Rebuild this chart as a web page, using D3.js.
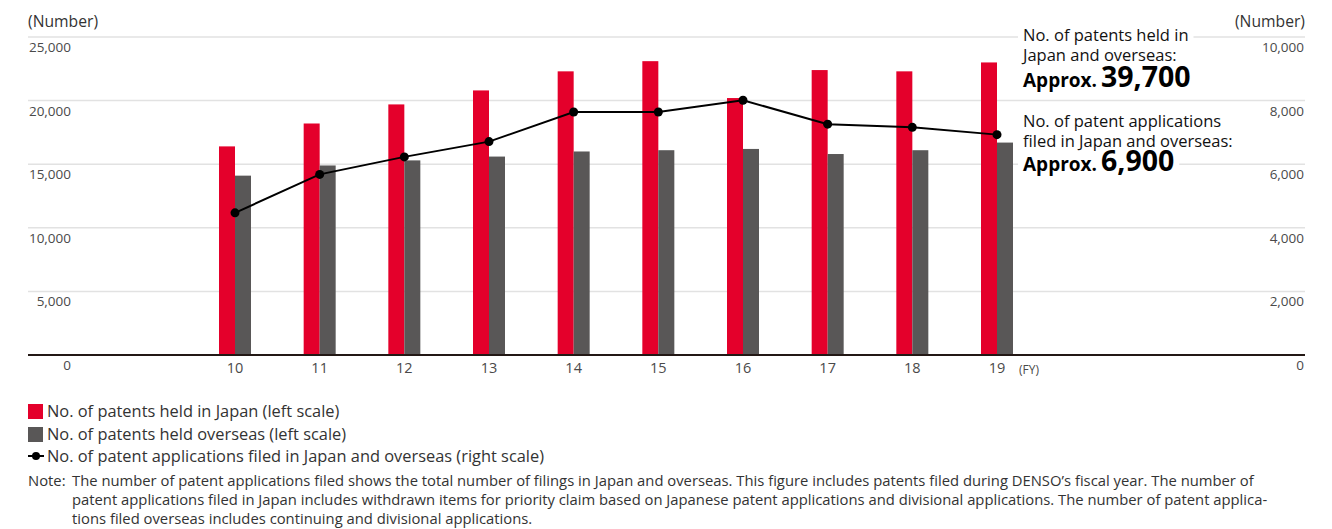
<!DOCTYPE html>
<html>
<head>
<meta charset="utf-8">
<script src="https://cdn.jsdelivr.net/npm/d3@7"></script>
<style>
	body { margin: 0; background: #fff; }
	svg { display: block; font-family: 'Open Sans', sans-serif; }
</style>
</head>
<body>
<div id="patent-chart-container"></div>
<script>
// values
const fiscalYears = ['10', '11', '12', '13', '14', '15', '16', '17', '18', '19'];
const heldJapan = [16400, 18200, 19700, 20800, 22300, 23100, 20200, 22400, 22300, 23000];
const heldOverseas = [14100, 14900, 15300, 15600, 16000, 16100, 16200, 15800, 16100, 16700];
const applications = [4470, 5680, 6230, 6710, 7640, 7640, 8010, 7260, 7160, 6930];

const leftTicks = [0, 5000, 10000, 15000, 20000, 25000];
const rightTicks = [0, 2000, 4000, 6000, 8000, 10000];

const heldNote = ['No. of patents held in', 'Japan and overseas:'];
const appsNote = ['No. of patent applications', 'filed in Japan and overseas:'];
const heldTotal = '39,700';
const appsTotal = '6,900';

const legendLabels = [
	'No. of patents held in Japan (left scale)',
	'No. of patents held overseas (left scale)',
	'No. of patent applications filed in Japan and overseas (right scale)'
];

const noteLines = [
	'The number of patent applications filed shows the total number of filings in Japan and overseas. This figure includes patents filed during DENSO\u2019s fiscal year. The number of',
	'patent applications filed in Japan includes withdrawn items for priority claim based on Japanese patent applications and divisional applications. The number of patent applica-',
	'tions filed overseas includes continuing and divisional applications.'
];

class PatentChart {

	constructor () {
		this.width = 1332;
		this.height = 529;

		this.left = 28;
		this.right = 1305;
		this.top = 37;
		this.bottom = 355;
		this.barWidth = 16;

		this.red = '#e4002b';
		this.gray = '#595757';
		this.textColor = '#4a4a4a';

		this.svg = d3.select('#patent-chart-container')
			.append('svg')
			.attr('width', this.width)
			.attr('height', this.height);

		this.x = d3.scalePoint()
			.domain(fiscalYears)
			.range([235, 997]);

		this.yLeft = d3.scaleLinear()
			.domain([0, 25000])
			.range([this.bottom, this.top]);

		this.yRight = d3.scaleLinear()
			.domain([0, 10000])
			.range([this.bottom, this.top]);
	}

	render () {
		this.drawGrid();
		this.drawAnnotations();
		this.drawBars();
		this.drawLine();
		this.drawLegend();
		this.drawNote();
	}

	drawGrid () {
		const bindObj = this;
		const fmt = d3.format(',');

		this.svg.append('g')
			.selectAll('line')
			.data(leftTicks.filter((d) => d > 0))
			.join('line')
			.attr('x1', bindObj.left)
			.attr('x2', bindObj.right)
			.attr('y1', (d) => bindObj.yLeft(d))
			.attr('y2', (d) => bindObj.yLeft(d))
			.attr('stroke', '#e2e2e2')
			.attr('stroke-width', 1.5);

		this.svg.append('g')
			.selectAll('text')
			.data(leftTicks)
			.join('text')
			.attr('x', 71)
			.attr('y', (d) => bindObj.yLeft(d) + 15)
			.attr('text-anchor', 'end')
			.attr('font-size', 13.5)
			.attr('fill', bindObj.textColor)
			.text((d) => fmt(d));

		this.svg.append('g')
			.selectAll('text')
			.data(rightTicks)
			.join('text')
			.attr('x', 1304)
			.attr('y', (d) => bindObj.yRight(d) + 15)
			.attr('text-anchor', 'end')
			.attr('font-size', 13.5)
			.attr('fill', bindObj.textColor)
			.text((d) => fmt(d));

		this.svg.append('text')
			.attr('x', bindObj.left)
			.attr('y', 27)
			.attr('font-size', 15.7)
			.attr('fill', '#333')
			.text('(Number)');

		this.svg.append('text')
			.attr('x', bindObj.right)
			.attr('y', 27)
			.attr('text-anchor', 'end')
			.attr('font-size', 15.7)
			.attr('fill', '#333')
			.text('(Number)');

		this.svg.append('g')
			.selectAll('text')
			.data(fiscalYears)
			.join('text')
			.attr('x', (d) => bindObj.x(d))
			.attr('y', 373)
			.attr('text-anchor', 'middle')
			.attr('font-size', 14.5)
			.attr('fill', bindObj.textColor)
			.text((d) => d);

		this.svg.append('text')
			.attr('x', 1019)
			.attr('y', 374)
			.attr('font-size', 12)
			.attr('fill', bindObj.textColor)
			.text('(FY)');
	}

	annotationBlock (lines, total, y0, gap) {
		const g = this.svg.append('g');
		const x0 = 1023;

		lines.forEach((line, i) => {
			g.append('text')
				.attr('x', x0)
				.attr('y', y0 + i * 20)
				.attr('font-size', 16.5)
				.attr('fill', '#111')
				.text(line);
		});

		const big = g.append('text')
			.attr('x', x0)
			.attr('y', y0 + gap)
			.attr('fill', '#000')
			.attr('font-weight', 'bold');

		big.append('tspan')
			.attr('font-size', 19)
			.text('Approx.');

		big.append('tspan')
			.attr('dx', 4)
			.attr('font-size', 28.5)
			.text(total);

		// white boxes cut the gridlines behind the text
		g.selectAll('text').each(function () {
			const box = this.getBBox();
			g.insert('rect', 'text')
				.attr('x', box.x - 5)
				.attr('y', box.y + 3)
				.attr('width', box.width + 10)
				.attr('height', box.height - 6)
				.attr('fill', '#fff');
		});
	}

	drawAnnotations () {
		this.annotationBlock(heldNote, heldTotal, 41, 46);
		this.annotationBlock(appsNote, appsTotal, 127, 44);
	}

	drawBars () {
		const bindObj = this;

		this.svg.append('g')
			.selectAll('rect')
			.data(fiscalYears)
			.join('rect')
			.attr('x', (d) => bindObj.x(d) - bindObj.barWidth)
			.attr('y', (d, i) => bindObj.yLeft(heldJapan[i]))
			.attr('width', bindObj.barWidth)
			.attr('height', (d, i) => bindObj.bottom - bindObj.yLeft(heldJapan[i]))
			.attr('fill', bindObj.red);

		this.svg.append('g')
			.selectAll('rect')
			.data(fiscalYears)
			.join('rect')
			.attr('x', (d) => bindObj.x(d))
			.attr('y', (d, i) => bindObj.yLeft(heldOverseas[i]))
			.attr('width', bindObj.barWidth)
			.attr('height', (d, i) => bindObj.bottom - bindObj.yLeft(heldOverseas[i]))
			.attr('fill', bindObj.gray);

		this.svg.append('line')
			.attr('x1', bindObj.left)
			.attr('x2', bindObj.right)
			.attr('y1', bindObj.bottom)
			.attr('y2', bindObj.bottom)
			.attr('stroke', '#231815')
			.attr('stroke-width', 2);
	}

	drawLine () {
		const bindObj = this;

		const line = d3.line()
			.x((d, i) => bindObj.x(fiscalYears[i]))
			.y((d) => bindObj.yRight(d));

		this.svg.append('path')
			.datum(applications)
			.attr('d', line)
			.attr('fill', 'none')
			.attr('stroke', '#000')
			.attr('stroke-width', 2);

		this.svg.append('g')
			.selectAll('circle')
			.data(applications)
			.join('circle')
			.attr('cx', (d, i) => bindObj.x(fiscalYears[i]))
			.attr('cy', (d) => bindObj.yRight(d))
			.attr('r', 4.5)
			.attr('fill', '#000');
	}

	drawLegend () {
		const bindObj = this;
		const g = this.svg.append('g');
		const rowY = [417, 440, 462];

		g.append('rect')
			.attr('x', 28).attr('y', 404)
			.attr('width', 15).attr('height', 15)
			.attr('fill', bindObj.red);

		g.append('rect')
			.attr('x', 28).attr('y', 427)
			.attr('width', 15).attr('height', 15)
			.attr('fill', bindObj.gray);

		g.append('line')
			.attr('x1', 28).attr('x2', 44)
			.attr('y1', 456).attr('y2', 456)
			.attr('stroke', '#000')
			.attr('stroke-width', 2);

		g.append('circle')
			.attr('cx', 36).attr('cy', 456)
			.attr('r', 4)
			.attr('fill', '#000');

		g.selectAll('text')
			.data(legendLabels)
			.join('text')
			.attr('x', 47)
			.attr('y', (d, i) => rowY[i])
			.attr('font-size', 16.4)
			.attr('fill', '#333')
			.text((d) => d);
	}

	drawNote () {
		const g = this.svg.append('g')
			.attr('font-size', 14.8)
			.attr('fill', '#333');

		g.append('text')
			.attr('x', 28)
			.attr('y', 486)
			.text('Note:');

		g.selectAll('text.note-line')
			.data(noteLines)
			.join('text')
			.attr('class', 'note-line')
			.attr('x', 72)
			.attr('y', (d, i) => 486 + i * 19)
			.text((d) => d);
	}

}

new PatentChart().render();
</script>
</body>
</html>
